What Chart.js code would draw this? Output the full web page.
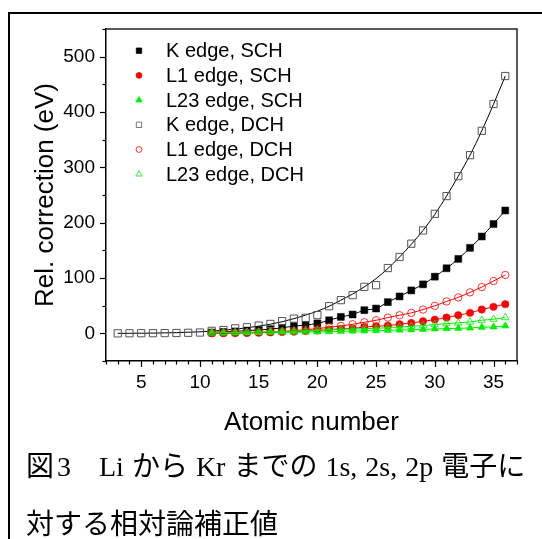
<!DOCTYPE html>
<html>
<head>
<meta charset="utf-8">
<script src="https://cdn.jsdelivr.net/npm/chart.js@4.4.1/dist/chart.umd.min.js"></script>
<style>
  html, body { margin: 0; padding: 0; background: #fff; }
  body { width: 542px; height: 539px; overflow: hidden; position: relative; }
  #frame { position: absolute; left: 8px; top: 12px; width: 600px; height: 600px;
           border-top: 2px solid #000; border-left: 2px solid #000; }
  #c { position: absolute; left: 0; top: 0; }
  #cap { position: absolute; left: 26px; top: 438px; font-family: "Liberation Serif", "Noto Sans CJK JP", serif;
         font-size: 28px; line-height: 58px; color: #000; white-space: nowrap; }
  #cap1 { word-spacing: 1px; }
  .n { margin-left: 3px; }
</style>
</head>
<body>
<div id="frame"></div>
<canvas id="c" width="542" height="539"></canvas>
<div id="cap"><div id="cap1">図<span class="n">3</span>　Li から Kr までの 1s, 2s, 2p 電子に</div><div id="cap2">対する相対論補正値</div></div>
<script>
// ---- data ----
const zAll = [3,4,5,6,7,8,9,10,11,12,13,14,15,16,17,18,19,20,21,22,23,24,25,26,27,28,29,30,31,32,33,34,35,36];
const zL   = [11,12,13,14,15,16,17,18,19,20,21,22,23,24,25,26,27,28,29,30,31,32,33,34,35,36];

const kEdgeDCH = [0,0.1,0.2,0.3,0.4,0.6,1,1.5,4.5,6,9,11,14,17,22,26.6,28,33,49,60,69,84,87,118,138,162,186,216,248,284,322,366,414.5,465];
const kEdgeDCHFit = [0,0.1,0.2,0.4,0.8,1.3,2,2.8,4,5.5,7.5,10,13,16.5,21,26.5,33,40,49,60,71,84,99,117,138,161,186,215,248,284,322,366,414,465];
const kEdgeSCH = [1.5,2.5,3.5,5,6,7.5,10,13,15,18,23.6,29.7,34,41.8,44.8,56.4,66.7,77.6,88.5,102.4,117.6,134.5,154.5,175,197.6,222];
const l1EdgeSCH = [0.2,0.3,0.5,0.8,1.2,1.7,2.3,3,4,5.2,6.8,8,9,11.5,12.7,13.9,16.4,18.8,21.8,24.8,28.5,32.7,37,43,47.9,52.7];
const l23EdgeSCH = [0.3,0.5,0.7,0.9,1.1,1.4,1.7,2,2.3,2.7,3,3.5,4,4.5,5,5.5,6,6.5,7.2,8,8.5,9,9.7,11,11.5,13.3];
const l1EdgeDCH = [0.3,0.5,0.8,1.2,1.8,2.5,3.5,4.8,6.5,8.5,11,13.3,16.4,20,23.6,28.5,32.7,37,43,49.7,57.6,65,74,83.6,94.5,105.5];
const l23EdgeDCH = [1,1.3,1.6,2,2.4,2.9,3.4,4,4.7,5.4,6.2,7,8,8.5,9,10.3,11.5,12.7,14,15.8,17.6,18.8,20.6,23.6,25.5,28.5];

const seriesNames = ['K edge, SCH','L1 edge, SCH','L23 edge, SCH','K edge, DCH','L1 edge, DCH','L23 edge, DCH'];
const xTitle = 'Atomic number';
const yTitle = 'Rel. correction (eV)';
const xMin = 2, xMax = 37, yMin = -50, yMax = 550;

// ---- build ----
const pts = (xs, ys) => xs.map((x, i) => ({x: x, y: ys[i]}));
const RED = '#ff0000', GREEN = '#00f000', GRAY = '#555555';

const datasets = [
  {label: seriesNames[0], data: pts(zL, kEdgeSCH), pointStyle: 'rect', pointRadius: 4.9,
   backgroundColor: '#000', borderColor: '#000', pointBorderWidth: 0.5, showLine: true, borderWidth: 1,
   cubicInterpolationMode: 'monotone', order: 5, _legend: 0},
  {label: seriesNames[1], data: pts(zL, l1EdgeSCH), pointStyle: 'circle', pointRadius: 3.7,
   backgroundColor: RED, borderColor: RED, pointBorderWidth: 0.5, showLine: true, borderWidth: 1,
   cubicInterpolationMode: 'monotone', order: 4, _legend: 1},
  {label: seriesNames[2], data: pts(zL, l23EdgeSCH), pointStyle: 'triangle', pointRadius: 4.3,
   backgroundColor: GREEN, borderColor: GREEN, pointBorderWidth: 0.5, showLine: true, borderWidth: 1,
   cubicInterpolationMode: 'monotone', order: 3, _legend: 2},
  {label: seriesNames[3], data: pts(zAll, kEdgeDCH), pointStyle: 'rect', pointRadius: 5.1,
   backgroundColor: 'rgba(0,0,0,0)', borderColor: GRAY, pointBorderColor: GRAY, pointBorderWidth: 1, showLine: false,
   order: 2, _legend: 3},
  {label: seriesNames[4], data: pts(zL, l1EdgeDCH), pointStyle: 'circle', pointRadius: 3.7,
   backgroundColor: 'rgba(0,0,0,0)', borderColor: RED, pointBorderWidth: 0.8, showLine: true, borderWidth: 1,
   cubicInterpolationMode: 'monotone', order: 1, _legend: 4},
  {label: seriesNames[5], data: pts(zL, l23EdgeDCH), pointStyle: 'triangle', pointRadius: 4.3,
   backgroundColor: 'rgba(0,0,0,0)', borderColor: GREEN, pointBorderWidth: 0.8, showLine: true, borderWidth: 1,
   cubicInterpolationMode: 'monotone', order: 0, _legend: 5},
  {label: 'fit', data: pts(zAll, kEdgeDCHFit), pointRadius: 0, showLine: true, borderColor: '#000',
   borderWidth: 1, cubicInterpolationMode: 'monotone', order: 6}
];

const FONT = 'Liberation Sans, Arial, sans-serif';

function drawMarker(ctx, style, r, x, y, fill, stroke, lw) {
  ctx.save();
  ctx.beginPath();
  if (style === 'rect') {
    const s = r * Math.SQRT1_2;
    ctx.rect(x - s, y - s, 2 * s, 2 * s);
  } else if (style === 'circle') {
    ctx.arc(x, y, r, 0, Math.PI * 2);
  } else if (style === 'triangle') {
    let a = 0;
    ctx.moveTo(x + Math.sin(a) * r, y - Math.cos(a) * r);
    a += 2 * Math.PI / 3;
    ctx.lineTo(x + Math.sin(a) * r, y - Math.cos(a) * r);
    a += 2 * Math.PI / 3;
    ctx.lineTo(x + Math.sin(a) * r, y - Math.cos(a) * r);
    ctx.closePath();
  }
  if (fill && fill !== 'rgba(0,0,0,0)') { ctx.fillStyle = fill; ctx.fill(); }
  ctx.lineWidth = lw; ctx.strokeStyle = stroke; ctx.stroke();
  ctx.restore();
}

const decorPlugin = {
  id: 'decor',
  afterDraw(chart) {
    const ctx = chart.ctx, a = chart.chartArea;
    ctx.save();
    // frame top/right
    ctx.strokeStyle = '#222'; ctx.lineWidth = 1.5;
    ctx.beginPath();
    ctx.moveTo(a.left, a.top); ctx.lineTo(a.right, a.top); ctx.lineTo(a.right, a.bottom);
    ctx.stroke();
    // tick marks (major / minor) from the scales
    ctx.strokeStyle = '#000'; ctx.lineWidth = 1.2;
    const ys = chart.scales.y, xs = chart.scales.x;
    ys.ticks.forEach(t => {
      const py = Math.round(ys.getPixelForValue(t.value)) + 0.5;
      const len = (t.value % 100 === 0) ? 6 : 3.5;
      ctx.beginPath(); ctx.moveTo(a.left, py); ctx.lineTo(a.left - len, py); ctx.stroke();
    });
    xs.ticks.forEach(t => {
      const px = Math.round(xs.getPixelForValue(t.value)) + 0.5;
      const len = (t.value % 5 === 0) ? 6 : 3.5;
      ctx.beginPath(); ctx.moveTo(px, a.bottom); ctx.lineTo(px, a.bottom + len); ctx.stroke();
    });
    // legend inside plot
    const lx = 139, tx = 166, y0 = 50.7, dy = 24.7;
    ctx.font = '20px ' + FONT; ctx.fillStyle = '#000'; ctx.textBaseline = 'middle'; ctx.textAlign = 'left';
    chart.data.datasets.forEach(ds => {
      if (ds._legend === undefined) return;
      const i = ds._legend, y = y0 + i * dy;
      const r = ds.pointStyle === 'rect' ? 3.8 : (ds.pointStyle === 'circle' ? 2.9 : 3.6);
      drawMarker(ctx, ds.pointStyle, r, lx, y, ds.backgroundColor, ds.pointBorderColor || ds.borderColor, 0.8);
      ctx.fillStyle = '#000';
      ctx.fillText(seriesNames[i], tx, y + 1);
    });
    ctx.restore();
  }
};

new Chart(document.getElementById('c'), {
  type: 'scatter',
  data: { datasets: datasets },
  options: {
    responsive: false,
    animation: false,
    layout: { padding: { left: 0, top: 29, right: 25, bottom: 99 } },
    plugins: { legend: { display: false }, tooltip: { enabled: false } },
    elements: { line: { tension: 0 } },
    scales: {
      x: {
        type: 'linear', min: xMin, max: xMax,
        grid: { display: false, drawTicks: false },
        border: { display: true, color: '#000', width: 1.5 },
        ticks: { stepSize: 1, autoSkip: false, maxRotation: 0, padding: 10, color: '#000',
                 font: { family: FONT, size: 19 },
                 callback: v => (v % 5 === 0 ? String(v) : '') },
        title: { display: true, text: xTitle, color: '#000', font: { family: FONT, size: 26 },
                 padding: { top: 0, bottom: 2 } },
        afterFit: s => { s.height = 79; }
      },
      y: {
        type: 'linear', min: yMin, max: yMax,
        grid: { display: false, drawTicks: false },
        border: { display: true, color: '#000', width: 1.5 },
        ticks: { stepSize: 50, autoSkip: false, padding: 11, color: '#000',
                 font: { family: FONT, size: 19 },
                 callback: v => (v % 100 === 0 ? String(v) : '') },
        title: { display: true, text: yTitle, color: '#000', font: { family: FONT, size: 26 },
                 padding: { top: 30, bottom: 0 } },
        afterFit: s => { s.width = 106; }
      }
    }
  },
  plugins: [decorPlugin]
});
</script>
</body>
</html>
